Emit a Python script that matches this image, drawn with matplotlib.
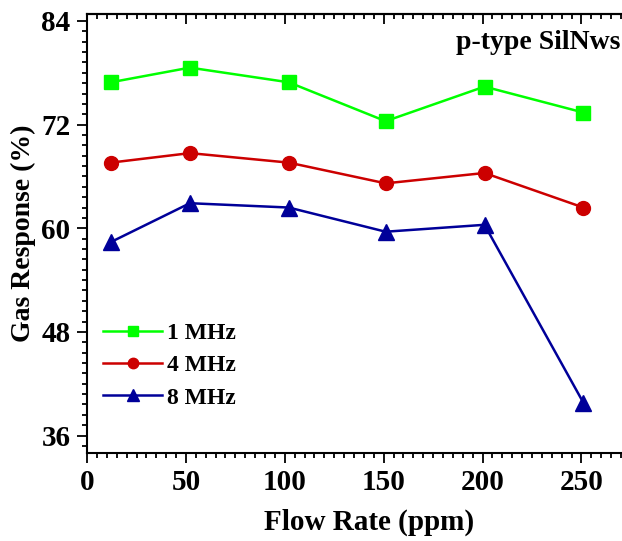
import matplotlib
matplotlib.use("Agg")
import matplotlib.pyplot as plt
from matplotlib.ticker import MultipleLocator

# data
flow = [12, 52, 102, 151, 201, 251]
resp_1mhz = [76.9, 78.6, 76.9, 72.4, 76.4, 73.4]
resp_4mhz = [67.6, 68.7, 67.6, 65.2, 66.4, 62.4]
resp_8mhz = [58.4, 62.9, 62.4, 59.6, 60.4, 39.8]
labels = ["1 MHz", "4 MHz", "8 MHz"]

plt.rcParams['font.family'] = ['Liberation Serif', 'DejaVu Serif']
plt.rcParams['font.weight'] = 'bold'

fig = plt.figure(figsize=(6.22, 5.41), dpi=100)
ax = fig.add_axes([0.140, 0.163, 0.906, 0.811])

ax.plot(flow, resp_1mhz, color='#00ff00', marker='s', markersize=10, lw=1.8, label=labels[0])
ax.plot(flow, resp_4mhz, color='#cc0000', marker='o', markersize=10, lw=1.8, label=labels[1])
ax.plot(flow, resp_8mhz, color='#000099', marker='^', markersize=11, lw=1.8, label=labels[2])

ax.set_xlim(0, 285)
ax.set_ylim(34.0, 84.8)
ax.xaxis.set_major_locator(MultipleLocator(50))
ax.xaxis.set_minor_locator(MultipleLocator(5))
ax.yaxis.set_major_locator(MultipleLocator(12))
ax.yaxis.set_minor_locator(MultipleLocator(1.2))
ax.tick_params(which='both', width=1.3, labelsize=21, direction='out')
ax.tick_params(which='major', length=7, pad=5)
ax.tick_params(which='minor', length=3.5)
for s in ax.spines.values():
    s.set_linewidth(1.5)

# inward ticks along the top edge
top = ax.secondary_xaxis('top')
top.xaxis.set_major_locator(MultipleLocator(50))
top.xaxis.set_minor_locator(MultipleLocator(5))
top.tick_params(which='both', direction='in', width=1.3, labeltop=False)
top.tick_params(which='major', length=7)
top.tick_params(which='minor', length=3.5)
top.spines['top'].set_linewidth(1.5)

ax.set_xlabel("Flow Rate (ppm)", fontsize=21, fontweight='bold', labelpad=9)
ax.set_ylabel("Gas Response (%)", fontsize=20, fontweight='bold', labelpad=4)

fig.text(0.997, 0.922, "p-type SilNws", ha='right', va='center', fontsize=20, fontweight='bold')

ax.legend(loc='upper left', bbox_to_anchor=(0.012, 0.318), frameon=False, fontsize=17,
          handlelength=2.5, handletextpad=0.2, labelspacing=0.45, borderaxespad=0,
          markerscale=0.75)

fig.savefig("out.png", dpi=100)
